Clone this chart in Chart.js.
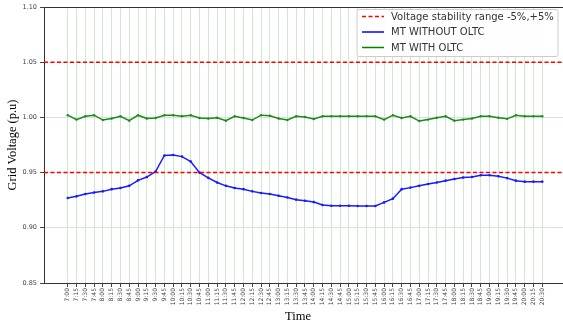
<!DOCTYPE html>
<html>
<head>
<meta charset="utf-8">
<script src="https://cdn.jsdelivr.net/npm/chart.js@4"></script>
<style>
  html, body { margin: 0; padding: 0; background: #fff; overflow: hidden; }
  #wrap { width: 570px; height: 323px; }
</style>
</head>
<body>
<div id="wrap"><canvas id="voltageChart" width="570" height="323"></canvas></div>
<script>
// Time labels, every 15 minutes from 7:00 to 20:30
const timeLabels = [
  '7:00', '7:15', '7:30', '7:45', '8:00', '8:15', '8:30', '8:45', '9:00', '9:15', '9:30', '9:45',
  '10:00', '10:15', '10:30', '10:45', '11:00', '11:15', '11:30', '11:45',
  '12:00', '12:15', '12:30', '12:45', '13:00', '13:15', '13:30', '13:45',
  '14:00', '14:15', '14:30', '14:45', '15:00', '15:15', '15:30', '15:45',
  '16:00', '16:15', '16:30', '16:45', '17:00', '17:15', '17:30', '17:45',
  '18:00', '18:15', '18:30', '18:45', '19:00', '19:15', '19:30', '19:45',
  '20:00', '20:15', '20:30'
];

// Grid voltage without OLTC (blue)
const withoutOltc = [
  0.927, 0.9285, 0.9306, 0.932, 0.933, 0.935, 0.936, 0.938, 0.943, 0.946, 0.951, 0.9655,
  0.966, 0.9645, 0.960, 0.950, 0.9452, 0.941, 0.938, 0.936,
  0.935, 0.933, 0.9315, 0.9306, 0.929, 0.9275, 0.9255, 0.9245,
  0.9233, 0.9206, 0.920, 0.920, 0.920, 0.9197, 0.9197, 0.9197,
  0.923, 0.9264, 0.935, 0.9364, 0.938, 0.9397, 0.941, 0.9427,
  0.9442, 0.9455, 0.946, 0.9476, 0.9476, 0.9467, 0.945, 0.9427,
  0.9418, 0.9418, 0.9418
];

// Grid voltage with OLTC (green)
const withOltc = [
  1.002, 0.998, 1.001, 1.002, 0.9976, 0.999, 1.001, 0.997, 1.002, 0.999, 0.9994, 1.002,
  1.002, 1.001, 1.002, 0.9994, 0.999, 0.9997, 0.997, 1.001,
  0.9994, 0.9976, 1.002, 1.0015, 0.999, 0.9976, 1.001, 1.0003,
  0.9985, 1.001, 1.001, 1.001, 1.001, 1.001, 1.001, 1.001,
  0.998, 1.002, 0.9994, 1.001, 0.9967, 0.998, 0.9997, 1.001,
  0.997, 0.998, 0.999, 1.001, 1.001, 0.9997, 0.9987, 1.002,
  1.001, 1.001, 1.001
];

// Stability band limits
const lowerLimit = 0.95;
const upperLimit = 1.05;

const yTicks = [0.85, 0.90, 0.95, 1.00, 1.05, 1.10];
const xMin = -2.7;
const xMax = 56.7;

const legendItems = [
  { label: 'Voltage stability range -5%,+5%', color: '#ff0000', dash: [4, 2.5] },
  { label: 'MT WITHOUT OLTC', color: '#0000ff', dash: [] },
  { label: 'MT WITH OLTC', color: '#008000', dash: [] }
];

const toPoints = arr => arr.map((v, i) => ({ x: i, y: v }));

// Legend box and the "Time" label, drawn on top of the chart
const overlayPlugin = {
  id: 'overlay',
  afterDraw(chart) {
    const ctx = chart.ctx;
    const area = chart.chartArea;
    ctx.save();

    // top spine
    ctx.strokeStyle = '#333';
    ctx.lineWidth = 1;
    ctx.beginPath();
    ctx.moveTo(area.left, area.top + 0.5);
    ctx.lineTo(area.right, area.top + 0.5);
    ctx.stroke();

    // legend
    const bx = 357, by = 9.5, bw = 201, bh = 47;
    ctx.fillStyle = 'rgba(255,255,255,0.92)';
    ctx.strokeStyle = '#cccccc';
    ctx.beginPath();
    ctx.roundRect(bx, by, bw, bh, 2);
    ctx.fill();
    ctx.stroke();

    ctx.font = '10px "DejaVu Sans"';
    ctx.textBaseline = 'middle';
    legendItems.forEach((item, i) => {
      const y = 16.5 + i * 15.5;
      ctx.strokeStyle = item.color;
      ctx.lineWidth = 1.5;
      ctx.setLineDash(item.dash);
      ctx.beginPath();
      ctx.moveTo(362, y);
      ctx.lineTo(384, y);
      ctx.stroke();
      ctx.setLineDash([]);
      ctx.fillStyle = '#333';
      ctx.fillText(item.label, 391, y + 0.5);
    });

    // x axis title
    ctx.fillStyle = '#000';
    ctx.font = '12.5px "Liberation Serif"';
    ctx.textAlign = 'center';
    ctx.textBaseline = 'alphabetic';
    ctx.fillText('Time', 298, 320);
    ctx.restore();
  }
};

const ctx = document.getElementById('voltageChart').getContext('2d');
new Chart(ctx, {
  type: 'line',
  data: {
    datasets: [
      {
        label: 'Voltage stability range -5%,+5%',
        data: [{ x: xMin, y: upperLimit }, { x: xMax, y: upperLimit }],
        borderColor: '#ff0000',
        borderWidth: 1.5,
        borderDash: [4, 2.5],
        pointRadius: 0
      },
      {
        label: 'lower',
        data: [{ x: xMin, y: lowerLimit }, { x: xMax, y: lowerLimit }],
        borderColor: '#ff0000',
        borderWidth: 1.5,
        borderDash: [4, 2.5],
        pointRadius: 0
      },
      {
        label: 'MT WITHOUT OLTC',
        data: toPoints(withoutOltc),
        borderColor: '#1a1aff',
        backgroundColor: '#1a1aff',
        borderWidth: 1.5,
        pointRadius: 1.3,
        pointBorderWidth: 0,
        tension: 0
      },
      {
        label: 'MT WITH OLTC',
        data: toPoints(withOltc),
        borderColor: '#1e8a1e',
        backgroundColor: '#1e8a1e',
        borderWidth: 1.5,
        pointRadius: 1.2,
        pointBorderWidth: 0,
        tension: 0
      }
    ]
  },
  options: {
    responsive: false,
    animation: false,
    devicePixelRatio: 1,
    layout: { padding: { top: 7, right: 3, left: 0, bottom: 0 } },
    plugins: {
      legend: { display: false },
      tooltip: { enabled: false }
    },
    scales: {
      x: {
        type: 'linear',
        min: xMin,
        max: xMax,
        afterBuildTicks: axis => { axis.ticks = timeLabels.map((_, i) => ({ value: i })); },
        afterFit: axis => { axis.height = 40; },
        ticks: {
          autoSkip: false,
          maxRotation: 90,
          minRotation: 90,
          padding: 1,
          color: '#444',
          font: { family: 'DejaVu Sans', size: 6 },
          callback: v => timeLabels[v]
        },
        grid: {
          color: '#cfe8cf',
          lineWidth: 1,
          tickLength: 4,
          tickColor: '#444'
        },
        border: { color: '#333', width: 1 }
      },
      y: {
        min: 0.85,
        max: 1.10,
        afterBuildTicks: axis => { axis.ticks = yTicks.map(v => ({ value: v })); },
        afterFit: axis => { axis.width = 44; },
        ticks: {
          padding: 3,
          color: '#444',
          font: { family: 'DejaVu Sans', size: 6.5 },
          callback: v => Number(v).toFixed(2)
        },
        grid: {
          color: '#cfe8cf',
          lineWidth: 1,
          tickLength: 4,
          tickColor: '#444'
        },
        border: { color: '#333', width: 1 },
        title: {
          display: true,
          text: 'Grid Voltage (p.u)',
          color: '#000',
          font: { family: 'Liberation Serif', size: 12.5 },
          padding: { top: 5, bottom: 0 }
        }
      }
    }
  },
  plugins: [overlayPlugin]
});
</script>
</body>
</html>
